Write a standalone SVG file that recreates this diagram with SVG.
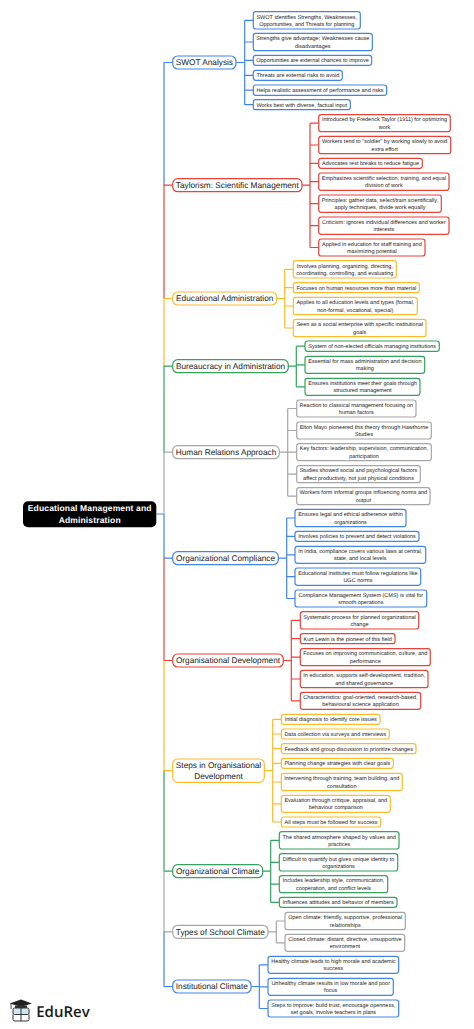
<svg xmlns="http://www.w3.org/2000/svg" width="474" height="1029" viewBox="0 0 474 1029">
<style>
text{font-family:"Liberation Sans",Arial,sans-serif;text-anchor:middle;fill:#222;text-rendering:geometricPrecision}
.k text{font-size:5.5px}
.m text{font-size:8.25px}
.k rect,.m rect{fill:#fff;stroke-width:1.2}
.k rect{rx:2.5px}
.m rect{rx:5px}
.bl rect{stroke:#4285e8}.rd rect{stroke:#e8433a}.yl rect{stroke:#fbbc2c}.gr rect{stroke:#34a35e}.gy rect{stroke:#a6a6a6}
#connectors path{fill:none;stroke-width:1.2;stroke-linejoin:round}
.cb{stroke:#4285e8}.cr{stroke:#e8433a}.cy{stroke:#fbbc2c}.cg{stroke:#34a35e}.cx{stroke:#a6a6a6}
</style>
<rect width="474" height="1029" fill="#fff"/>
<g id="connectors">
<path class="cb" d="M156.3 514H164M164 514V558.2H172.7M244.7 62.5H236M164 185V62.5H172.7M236 62.5H244.7M244.7 20.35V104.7M244.7 20.35H253.3M244.7 42H253.3M244.7 60.3H253.3M244.7 75.3H253.3M244.7 90.1H253.3M244.7 104.7H253.3"/>
<path class="cr" d="M164 298.5V185.2H172.7M302 185.2H310M310 123.2V247.5M310 123.2H318.7M310 145H318.7M310 163.3H318.7M310 181.65H318.7M310 203.65H318.7M310 225.65H318.7M310 247.5H318.7"/>
<path class="cy" d="M164 366.2V298.5H172.7M276.7 298.5H284.7M284.7 269.35V328M284.7 269.35H293.3M284.7 287.7H293.3M284.7 306H293.3M284.7 328H293.3"/>
<path class="cg" d="M164 452.2V366.2H172.7M288.3 366.2H296.3M296.3 346.15V386.8M296.3 346.15H305M296.3 364.8H305M296.3 386.8H305"/>
<path class="cx" d="M164 514V452.2H172.7M279.3 452.2H287.7M287.7 408.5V496.2M287.7 408.5H296.7M287.7 430.5H296.7M287.7 452.2H296.7M287.7 474.2H296.7M287.7 496.2H296.7"/>
<path class="cb" d="M278.3 558.2H286.7M286.7 518V598.5M286.7 518H295M286.7 536.3H295M286.7 554.8H295M286.7 576.65H295M286.7 598.5H295"/>
<path class="cr" d="M164 558.2V660.5H172.7M283.3 660.5H291.3M291.3 620.35V700.8M291.3 620.35H300.3M291.3 638.7H300.3M291.3 657.2H300.3M291.3 679H300.3M291.3 700.8H300.3"/>
<path class="cy" d="M164 660.5V770.65H172.7M264.3 770.65H272.7M272.7 719.3V822M272.7 719.3H281.3M272.7 734H281.3M272.7 748.7H281.3M272.7 763.3H281.3M272.7 782H281.3M272.7 803.8H281.3M272.7 822H281.3"/>
<path class="cg" d="M164 770.65V871.2H172.7M262.7 871.2H270.7M270.7 840.35V902.3M270.7 840.35H279.3M270.7 862.35H279.3M270.7 884.2H279.3M270.7 902.3H279.3"/>
<path class="cx" d="M164 871.2V931.8H172.7M268 931.8H276.3M276.3 921V942.8M276.3 921H285M276.3 942.8H285"/>
<path class="cb" d="M164 931.8V986.5H172.7M251 986.5H259.3M259.3 964.8V1008.5M259.3 964.8H268M259.3 986.8H268M259.3 1008.5H268"/>
</g>
<g id="root"><rect x="23" y="501.3" width="133.3" height="26" rx="5" fill="#000"/><text x="89.7" y="511" font-size="8.5" font-weight="700" letter-spacing=".15" style="fill:#fff">Educational Management and</text><text x="89.7" y="522.7" font-size="8.5" font-weight="700" letter-spacing=".15" style="fill:#fff">Administration</text></g>

<g id="swot" class="m bl"><rect x="172.7" y="56" width="63.3" height="13"/><text x="204.4" y="65.4">SWOT Analysis</text></g>
<g class="k bl" id="swot-1"><rect x="253.3" y="11.7" width="107" height="17.3"/><text x="306.8" y="18.6">SWOT identifies Strengths, Weaknesses,</text><text x="306.8" y="25.9">Opportunities, and Threats for planning</text></g>
<g class="k bl" id="swot-2"><rect x="253.3" y="33.3" width="119" height="17.4"/><text x="312.8" y="40.25">Strengths give advantage; Weaknesses cause</text><text x="312.8" y="47.55">disadvantages</text></g>
<g class="k bl" id="swot-3"><rect x="253.3" y="55.3" width="118.4" height="10"/><text x="312.5" y="62.2">Opportunities are external chances to improve</text></g>
<g class="k bl" id="swot-4"><rect x="253.3" y="70.3" width="89" height="10"/><text x="297.8" y="77.2">Threats are external risks to avoid</text></g>
<g class="k bl" id="swot-5"><rect x="253.3" y="85" width="133.4" height="10.3"/><text x="320" y="92">Helps realistic assessment of performance and risks</text></g>
<g class="k bl" id="swot-6"><rect x="253.3" y="99.7" width="97" height="10"/><text x="301.8" y="106.6">Works best with diverse, factual input</text></g>

<g id="taylor" class="m rd"><rect x="172.7" y="178.7" width="129.3" height="13"/><text x="237.3" y="188.1">Taylorism: Scientific Management</text></g>
<g class="k rd" id="taylor-1"><rect x="318.7" y="114.7" width="131.6" height="17"/><text x="384.5" y="121.45">Introduced by Frederick Taylor (1911) for optimizing</text><text x="384.5" y="128.75">work</text></g>
<g class="k rd" id="taylor-2"><rect x="318.7" y="136.3" width="132" height="17.4"/><text x="384.7" y="143.25">Workers tend to "soldier" by working slowly to avoid</text><text x="384.7" y="150.55">extra effort</text></g>
<g class="k rd" id="taylor-3"><rect x="318.7" y="158.3" width="103.6" height="10"/><text x="370.5" y="165.2">Advocates rest breaks to reduce fatigue</text></g>
<g class="k rd" id="taylor-4"><rect x="318.7" y="173" width="130.3" height="17.3"/><text x="383.9" y="179.9">Emphasizes scientific selection, training, and equal</text><text x="383.9" y="187.2">division of work</text></g>
<g class="k rd" id="taylor-5"><rect x="318.7" y="195" width="122.6" height="17.3"/><text x="380" y="201.9">Principles: gather data, select/train scientifically,</text><text x="380" y="209.2">apply techniques, divide work equally</text></g>
<g class="k rd" id="taylor-6"><rect x="318.7" y="217" width="130.3" height="17.3"/><text x="383.9" y="223.9">Criticism: ignores individual differences and worker</text><text x="383.9" y="231.2">interests</text></g>
<g class="k rd" id="taylor-7"><rect x="318.7" y="239" width="106.3" height="17"/><text x="371.9" y="245.75">Applied in education for staff training and</text><text x="371.9" y="253.05">maximizing potential</text></g>

<g id="edadmin" class="m yl"><rect x="172.7" y="292" width="104" height="13"/><text x="224.7" y="301.4">Educational Administration</text></g>
<g class="k yl" id="edadmin-1"><rect x="293.3" y="260.7" width="103" height="17.3"/><text x="344.8" y="267.6">Involves planning, organizing, directing,</text><text x="344.8" y="274.9">coordinating, controlling, and evaluating</text></g>
<g class="k yl" id="edadmin-2"><rect x="293.3" y="282.7" width="126" height="10"/><text x="356.3" y="289.6">Focuses on human resources more than material</text></g>
<g class="k yl" id="edadmin-3"><rect x="293.3" y="297.3" width="124" height="17.4"/><text x="355.3" y="304.25">Applies to all education levels and types (formal,</text><text x="355.3" y="311.55">non-formal, vocational, special)</text></g>
<g class="k yl" id="edadmin-4"><rect x="293.3" y="319.3" width="132.7" height="17.4"/><text x="359.7" y="326.25">Seen as a social enterprise with specific institutional</text><text x="359.7" y="333.55">goals</text></g>

<g id="bureau" class="m gr"><rect x="172.7" y="359.7" width="115.6" height="13"/><text x="230.5" y="369.1">Bureaucracy in Administration</text></g>
<g class="k gr" id="bureau-1"><rect x="305" y="341" width="134.3" height="10.3"/><text x="372.2" y="348.05">System of non-elected officials managing institutions</text></g>
<g class="k gr" id="bureau-2"><rect x="305" y="356.3" width="119.7" height="17"/><text x="364.9" y="363.05">Essential for mass administration and decision</text><text x="364.9" y="370.35">making</text></g>
<g class="k gr" id="bureau-3"><rect x="305" y="378.3" width="115" height="17"/><text x="362.5" y="385.05">Ensures institutions meet their goals through</text><text x="362.5" y="392.35">structured management</text></g>

<g id="human" class="m gy"><rect x="172.7" y="445.7" width="106.6" height="13"/><text x="226" y="455.1">Human Relations Approach</text></g>
<g class="k gy" id="human-1"><rect x="296.7" y="400" width="119.3" height="17"/><text x="356.3" y="406.75">Reaction to classical management focusing on</text><text x="356.3" y="414.05">human factors</text></g>
<g class="k gy" id="human-2"><rect x="296.7" y="422" width="134.6" height="17"/><text x="364" y="428.75">Elton Mayo pioneered this theory through Hawthorne</text><text x="364" y="436.05">Studies</text></g>
<g class="k gy" id="human-3"><rect x="296.7" y="443.7" width="134.6" height="17"/><text x="364" y="450.45">Key factors: leadership, supervision, communication,</text><text x="364" y="457.75">participation</text></g>
<g class="k gy" id="human-4"><rect x="296.7" y="465.7" width="123.6" height="17"/><text x="358.5" y="472.45">Studies showed social and psychological factors</text><text x="358.5" y="479.75">affect productivity, not just physical conditions</text></g>
<g class="k gy" id="human-5"><rect x="296.7" y="487.7" width="133.3" height="17"/><text x="363.3" y="494.45">Workers form informal groups influencing norms and</text><text x="363.3" y="501.75">output</text></g>

<g id="compliance" class="m bl"><rect x="172.7" y="551.7" width="105.6" height="13"/><text x="225.5" y="561.1">Organizational Compliance</text></g>
<g class="k bl" id="compliance-1"><rect x="295" y="509.3" width="111" height="17.4"/><text x="350.5" y="516.25">Ensures legal and ethical adherence within</text><text x="350.5" y="523.55">organizations</text></g>
<g class="k bl" id="compliance-2"><rect x="295" y="531.3" width="124" height="10"/><text x="357" y="538.2">Involves policies to prevent and detect violations</text></g>
<g class="k bl" id="compliance-3"><rect x="295" y="546.3" width="130.7" height="17"/><text x="360.3" y="553.05">In India, compliance covers various laws at central,</text><text x="360.3" y="560.35">state, and local levels</text></g>
<g class="k bl" id="compliance-4"><rect x="295" y="568" width="125.7" height="17.3"/><text x="357.9" y="574.9">Educational institutes must follow regulations like</text><text x="357.9" y="582.2">UGC norms</text></g>
<g class="k bl" id="compliance-5"><rect x="295" y="590" width="131.7" height="17"/><text x="360.8" y="596.75">Compliance Management System (CMS) is vital for</text><text x="360.8" y="604.05">smooth operations</text></g>

<g id="orgdev" class="m rd"><rect x="172.7" y="654" width="110.6" height="13"/><text x="228" y="663.4">Organisational Development</text></g>
<g class="k rd" id="orgdev-1"><rect x="300.3" y="611.7" width="118.4" height="17.3"/><text x="359.5" y="618.6">Systematic process for planned organizational</text><text x="359.5" y="625.9">change</text></g>
<g class="k rd" id="orgdev-2"><rect x="300.3" y="633.7" width="94.7" height="10"/><text x="347.7" y="640.6">Kurt Lewin is the pioneer of this field</text></g>
<g class="k rd" id="orgdev-3"><rect x="300.3" y="648.7" width="130" height="17"/><text x="365.3" y="655.45">Focuses on improving communication, culture, and</text><text x="365.3" y="662.75">performance</text></g>
<g class="k rd" id="orgdev-4"><rect x="300.3" y="670.3" width="127.7" height="17.4"/><text x="364.2" y="677.25">In education, supports self-development, tradition,</text><text x="364.2" y="684.55">and shared governance</text></g>
<g class="k rd" id="orgdev-5"><rect x="300.3" y="692.3" width="120.4" height="17"/><text x="360.5" y="699.05">Characteristics: goal-oriented, research-based,</text><text x="360.5" y="706.35">behavioural science application</text></g>

<g id="steps" class="m yl"><rect x="172.7" y="759" width="91.6" height="23.3"/><text x="218.5" y="767.8">Steps in Organisational</text><text x="218.5" y="778.5">Development</text></g>
<g class="k yl" id="steps-1"><rect x="281.3" y="714.3" width="98.7" height="10"/><text x="330.7" y="721.2">Initial diagnosis to identify core issues</text></g>
<g class="k yl" id="steps-2"><rect x="281.3" y="729" width="108" height="10"/><text x="335.3" y="735.9">Data collection via surveys and interviews</text></g>
<g class="k yl" id="steps-3"><rect x="281.3" y="743.7" width="134.7" height="10"/><text x="348.7" y="750.6">Feedback and group discussion to prioritize changes</text></g>
<g class="k yl" id="steps-4"><rect x="281.3" y="758.3" width="112" height="10"/><text x="337.3" y="765.2">Planning change strategies with clear goals</text></g>
<g class="k yl" id="steps-5"><rect x="281.3" y="773.3" width="121" height="17.4"/><text x="341.8" y="780.25">Intervening through training, team building, and</text><text x="341.8" y="787.55">consultation</text></g>
<g class="k yl" id="steps-6"><rect x="281.3" y="795.3" width="109" height="17"/><text x="335.8" y="802.05">Evaluation through critique, appraisal, and</text><text x="335.8" y="809.35">behaviour comparison</text></g>
<g class="k yl" id="steps-7"><rect x="281.3" y="817" width="99.4" height="10"/><text x="331" y="823.9">All steps must be followed for success</text></g>

<g id="orgclimate" class="m gr"><rect x="172.7" y="864.7" width="90" height="13"/><text x="217.7" y="874.1">Organizational Climate</text></g>
<g class="k gr" id="orgclimate-1"><rect x="279.3" y="831.7" width="119.7" height="17.3"/><text x="339.2" y="838.6">The shared atmosphere shaped by values and</text><text x="339.2" y="845.9">practices</text></g>
<g class="k gr" id="orgclimate-2"><rect x="279.3" y="853.7" width="118.4" height="17.3"/><text x="338.5" y="860.6">Difficult to quantify but gives unique identity to</text><text x="338.5" y="867.9">organizations</text></g>
<g class="k gr" id="orgclimate-3"><rect x="279.3" y="875.7" width="108.4" height="17"/><text x="333.5" y="882.45">Includes leadership style, communication,</text><text x="333.5" y="889.75">cooperation, and conflict levels</text></g>
<g class="k gr" id="orgclimate-4"><rect x="279.3" y="897.3" width="117.7" height="10"/><text x="338.2" y="904.2">Influences attitudes and behavior of members</text></g>

<g id="types" class="m gy"><rect x="172.7" y="925.3" width="95.3" height="13"/><text x="220.3" y="934.7">Types of School Climate</text></g>
<g class="k gy" id="types-1"><rect x="285" y="912.3" width="120.3" height="17.4"/><text x="345.2" y="919.25">Open climate: friendly, supportive, professional</text><text x="345.2" y="926.55">relationships</text></g>
<g class="k gy" id="types-2"><rect x="285" y="934.3" width="119.7" height="17"/><text x="344.9" y="941.05">Closed climate: distant, directive, unsupportive</text><text x="344.9" y="948.35">environment</text></g>

<g id="institutional" class="m bl"><rect x="172.7" y="980" width="78.3" height="13"/><text x="211.8" y="989.4">Institutional Climate</text></g>
<g class="k bl" id="institutional-1"><rect x="268" y="956.3" width="130.7" height="17"/><text x="333.4" y="963.05">Healthy climate leads to high morale and academic</text><text x="333.4" y="970.35">success</text></g>
<g class="k bl" id="institutional-2"><rect x="268" y="978.3" width="125.3" height="17"/><text x="330.7" y="985.05">Unhealthy climate results in low morale and poor</text><text x="330.7" y="992.35">focus</text></g>
<g class="k bl" id="institutional-3"><rect x="268" y="1000" width="130.7" height="17"/><text x="333.4" y="1006.75">Steps to improve: build trust, encourage openness,</text><text x="333.4" y="1014.05">set goals, involve teachers in plans</text></g>

<g id="logo">
<path d="M9.500 1003.500L21 999.500L32 1003.500L21 1006.800Z" fill="#222"/>
<path d="M15 1005.500V1008H27V1005.500" fill="#333"/>
<path d="M11 1003.500V1009" fill="none" stroke="#222" stroke-width=".8"/>
<rect x="13" y="1008" width="16" height="6.500" rx="1.500" fill="#cfe6ee" stroke="#333" stroke-width="1"/>
<path d="M21 1008V1021M13 1014.500V1019.500Q13 1021 15 1021H27Q29 1021 29 1019.500V1014.500" fill="none" stroke="#333" stroke-width="1"/>
<text x="63" y="1017" font-size="15" font-weight="600" style="font-family:'Open Sans','Liberation Sans',sans-serif;fill:#1a1a1a">EduRev</text>
</g>
</svg>
